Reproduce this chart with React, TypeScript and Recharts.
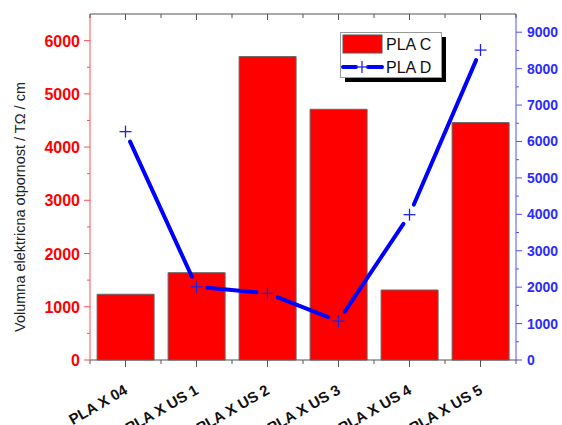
import { ComposedChart, Bar, Line, XAxis, YAxis } from 'recharts'

const categories = ['PLA X 04', 'PLA X US 1', 'PLA X US 2', 'PLA X US 3', 'PLA X US 4', 'PLA X US 5']
const plaC = [1235, 1640, 5700, 4710, 1315, 4460]
const plaD = [6270, 2010, 1830, 1070, 3990, 8510]
const leftTicks = [0, 500, 1000, 1500, 2000, 2500, 3000, 3500, 4000, 4500, 5000, 5500, 6000]
const rightTicks = [0, 500, 1000, 1500, 2000, 2500, 3000, 3500, 4000, 4500, 5000, 5500, 6000, 6500, 7000, 7500, 8000, 8500, 9000]

const data = categories.map((name, i) => ({ name, 'PLA C': plaC[i], 'PLA D': plaD[i] }))

const FONT = 'Liberation Sans, Arial, sans-serif'

function LeftTick({ x, y, payload }: any) {
  const major = payload.value % 1000 === 0
  return (
    <g>
      <line x1={x} x2={x - (major ? 6 : 3)} y1={y} y2={y} stroke="#ff5050" />
      {major && (
        <text x={x - 10} y={y} dy={6} textAnchor="end" fill="#ff0000" fontSize={16} fontWeight="bold" fontFamily={FONT}>
          {payload.value}
        </text>
      )}
    </g>
  )
}

function RightTick({ x, y, payload }: any) {
  const major = payload.value % 1000 === 0
  return (
    <g>
      <line x1={x} x2={x + (major ? 6 : 3)} y1={y} y2={y} stroke="#5050ff" />
      {major && (
        <text x={x + 11} y={y} dy={5} textAnchor="start" fill="#2b2bff" fontSize={14} fontWeight="bold" fontFamily={FONT}>
          {payload.value}
        </text>
      )}
    </g>
  )
}

function BottomTick({ x, y, payload, width, visibleTicksCount, index }: any) {
  const band = width / visibleTicksCount
  const lx = x + 3
  const ly = y + 33
  return (
    <g>
      <line x1={x} x2={x} y1={y} y2={y + 7} stroke="#555" />
      <line x1={x - band / 2} x2={x - band / 2} y1={y} y2={y + 4} stroke="#555" />
      {index === visibleTicksCount - 1 && (
        <line x1={x + band / 2} x2={x + band / 2} y1={y} y2={y + 4} stroke="#555" />
      )}
      <text x={lx} y={ly} textAnchor="end" transform={`rotate(-30, ${lx}, ${ly})`} fill="#111" fontSize={15} fontWeight="bold" fontFamily={FONT}>
        {payload.value}
      </text>
    </g>
  )
}

function TopTick({ x, y, width, visibleTicksCount, index }: any) {
  const band = width / visibleTicksCount
  return (
    <g>
      <line x1={x} x2={x} y1={y} y2={y + 6} stroke="#555" />
      <line x1={x - band / 2} x2={x - band / 2} y1={y} y2={y + 4} stroke="#555" />
      {index === visibleTicksCount - 1 && (
        <line x1={x + band / 2} x2={x + band / 2} y1={y} y2={y + 4} stroke="#555" />
      )}
    </g>
  )
}

// line segments stop short of each cross, like the original plot
function CrossDot({ cx, cy, index, points }: any) {
  const gap = 11
  let seg = null
  if (points && index < points.length - 1) {
    const nx = points[index + 1].x
    const ny = points[index + 1].y
    const dx = nx - cx
    const dy = ny - cy
    const len = Math.sqrt(dx * dx + dy * dy)
    if (len > gap * 2) {
      const ux = dx / len
      const uy = dy / len
      seg = (
        <line x1={cx + ux * gap} y1={cy + uy * gap} x2={nx - ux * gap} y2={ny - uy * gap} stroke="#0000ff" strokeWidth={4} strokeLinecap="round" />
      )
    }
  }
  return (
    <g key={`d-${index}`}>
      {seg}
      <line x1={cx - 6} x2={cx + 6} y1={cy} y2={cy} stroke="#2222dd" strokeWidth={1.3} />
      <line x1={cx} x2={cx} y1={cy - 6} y2={cy + 6} stroke="#2222dd" strokeWidth={1.3} />
    </g>
  )
}

function YLabel({ viewBox }: any) {
  const x = viewBox.x + 20
  const y = viewBox.y + viewBox.height / 2 + 20
  return (
    <text x={x} y={y} textAnchor="middle" dominantBaseline="central" transform={`rotate(-90, ${x}, ${y})`} fill="#222" fontSize={14.5} fontFamily={FONT}>
      Volumna elektricna otpornost / TΩ / cm
    </text>
  )
}

function LegendBox() {
  return (
    <svg width={110} height={52} style={{ position: 'absolute', left: 340, top: 32 }}>
      <rect x={5} y={5} width={101} height={45} fill="#000" />
      <rect x={0.5} y={0.5} width={101} height={45} fill="#fff" stroke="#999" />
      <rect x={3} y={3} width={39} height={18} fill="#ff0000" stroke="#555" />
      <text x={46} y={18} fill="#111" fontSize={16} fontFamily={FONT}>PLA C</text>
      <line x1={3} x2={16} y1={35} y2={35} stroke="#0000ff" strokeWidth={4} strokeLinecap="round" />
      <line x1={28} x2={42} y1={35} y2={35} stroke="#0000ff" strokeWidth={4} strokeLinecap="round" />
      <line x1={16} x2={28} y1={35} y2={35} stroke="#2222dd" strokeWidth={1.3} />
      <line x1={22} x2={22} y1={29} y2={41} stroke="#2222dd" strokeWidth={1.3} />
      <text x={46} y={41} fill="#111" fontSize={16} fontFamily={FONT}>PLA D</text>
    </svg>
  )
}

export default function App() {
  return (
    <div style={{ position: 'absolute', left: 0, top: 0, width: 562, height: 425, background: '#fff' }}>
      <ComposedChart width={562} height={425} data={data} margin={{ top: 0, right: 0, bottom: 0, left: 0 }} barCategoryGap="10%">
        <XAxis
          xAxisId="top"
          dataKey="name"
          orientation="top"
          height={14}
          axisLine={{ stroke: '#555' }}
          tickLine={false}
          tickSize={0}
          tickMargin={0}
          tick={<TopTick />}
          interval={0}
        />
        <XAxis
          dataKey="name"
          height={65}
          axisLine={{ stroke: '#555' }}
          tickLine={false}
          tickSize={0}
          tickMargin={0}
          tick={<BottomTick />}
          interval={0}
        />
        <YAxis
          yAxisId="left"
          width={90}
          domain={[0, 6500]}
          ticks={leftTicks}
          interval={0}
          axisLine={{ stroke: '#ff5050' }}
          tickLine={false}
          tickSize={0}
          tickMargin={0}
          tick={<LeftTick />}
          label={<YLabel />}
        />
        <YAxis
          yAxisId="right"
          orientation="right"
          width={46}
          domain={[0, 9500]}
          ticks={rightTicks}
          interval={0}
          axisLine={{ stroke: '#5050ff' }}
          tickLine={false}
          tickSize={0}
          tickMargin={0}
          tick={<RightTick />}
        />
        <Bar yAxisId="left" dataKey="PLA C" fill="#ff0000" stroke="#666" strokeWidth={1} isAnimationActive={false} />
        <Line
          yAxisId="right"
          dataKey="PLA D"
          stroke="none"
          dot={(p: any) => <CrossDot {...p} />}
          activeDot={false}
          isAnimationActive={false}
        />
      </ComposedChart>
      <LegendBox />
    </div>
  )
}
